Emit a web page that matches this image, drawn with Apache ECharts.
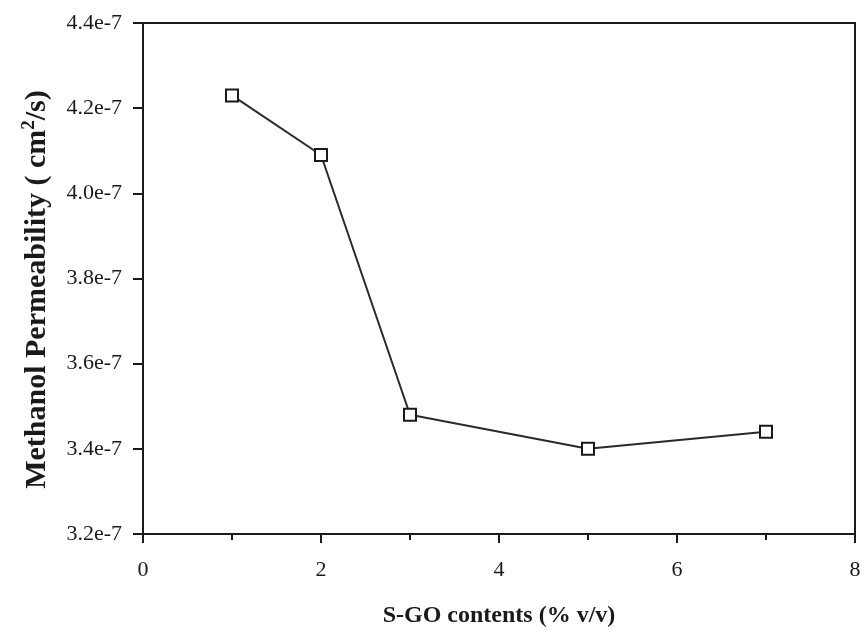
<!DOCTYPE html>
<html>
<head>
<meta charset="utf-8">
<script src="https://cdn.jsdelivr.net/npm/echarts@6/dist/echarts.min.js"></script>
<style>
  html, body { margin: 0; padding: 0; background: #fff; }
  #chart { width: 865px; height: 633px; }
</style>
</head>
<body>
<div id="chart"></div>
<script>
// S-GO content (% v/v)
const sgoContent = [1, 2, 3, 5, 7]
// methanol permeability, in units of 1e-7 cm2/s
const permeability = [4.23, 4.09, 3.48, 3.40, 3.44]

const xTicks = { min: 0, max: 8, step: 2 }
const yTicks = { min: 3.2, max: 4.4, step: 0.2 }

const font = '"Liberation Serif", "Times New Roman", serif'
const ink = '#1a1a1a'

const chart = echarts.init(document.getElementById('chart'))

const option = {
    animation: false,
    backgroundColor: '#fff',
    grid: {
        left: 143,
        right: 10,
        top: 23,
        bottom: 96,
        show: true,
        borderColor: ink,
        borderWidth: 2
    },
    xAxis: {
        type: 'value',
        min: xTicks.min,
        max: xTicks.max,
        interval: xTicks.step,
        name: 'S-GO contents (% v/v)',
        nameLocation: 'middle',
        nameGap: 70,
        nameTextStyle: { fontFamily: font, fontSize: 24, fontWeight: 'bold', color: ink },
        axisLine: { lineStyle: { color: ink, width: 2 } },
        axisTick: { length: 9, lineStyle: { color: ink, width: 2 } },
        minorTick: { show: true, splitNumber: 2, length: 6, lineStyle: { color: ink, width: 2 } },
        splitLine: { show: false },
        axisLabel: { fontFamily: font, fontSize: 22, color: ink, margin: 25 }
    },
    yAxis: {
        type: 'value',
        min: yTicks.min,
        max: yTicks.max,
        interval: yTicks.step,
        name: '{t|Methanol Permeability ( cm}{s|2}{t|/s)}',
        nameLocation: 'middle',
        nameGap: 89,
        nameTextStyle: {
            padding: [0, 22, 0, 0],
            rich: {
                t: { fontFamily: font, fontSize: 30, fontWeight: 'bold', color: ink },
                s: { fontFamily: font, fontSize: 19, fontWeight: 'bold', color: ink, verticalAlign: 'top', padding: [0, 0, 15, 0] }
            }
        },
        axisLine: { show: true, lineStyle: { color: ink, width: 2 } },
        axisTick: { show: true, length: 10, lineStyle: { color: ink, width: 2 } },
        splitLine: { show: false },
        axisLabel: {
            fontFamily: font,
            fontSize: 22,
            color: ink,
            margin: 21,
            formatter: v => v.toFixed(1) + 'e-7'
        }
    },
    series: [
        {
            type: 'line',
            data: sgoContent.map((x, i) => [x, permeability[i]]),
            symbol: 'rect',
            symbolSize: 12,
            itemStyle: { color: '#fff', borderColor: ink, borderWidth: 2 },
            lineStyle: { color: '#2a2a2a', width: 2 }
        }
    ]
}

chart.setOption(option)
</script>
</body>
</html>
